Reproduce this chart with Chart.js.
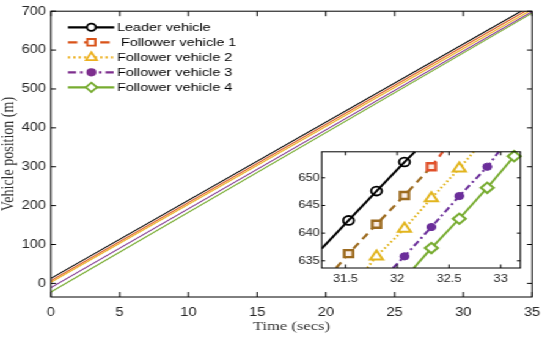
<!DOCTYPE html>
<html>
<head>
<meta charset="utf-8">
<script src="https://cdn.jsdelivr.net/npm/chart.js@4.4.0/dist/chart.umd.min.js"></script>
<style>
html, body { margin: 0; padding: 0; background: #fff; overflow: hidden; }
/* the reference is stretched sideways, so draw narrow and stretch */
#wrap { position: absolute; left: 0; top: 0; width: 450px; height: 337px; transform: scaleX(1.2222); transform-origin: 0 0; }
#c1 { position: absolute; left: 0; top: 0; }
#c2 { position: absolute; left: 233px; top: 144px; }
</style>
</head>
<body>
<div id="wrap">
  <canvas id="c1" width="450" height="337"></canvas>
  <canvas id="c2" width="200" height="144"></canvas>
</div>
<script>
// names
var seriesNames = ['Leader vehicle', ' Follower vehicle 1', 'Follower vehicle 2', 'Follower vehicle 3', 'Follower vehicle 4'];

// main plot (time in s, position in m)
var timeEnds = [0, 35];
var leaderPos = [13, 716];
var follower1Pos = [7, 710];
var follower2Pos = [3, 704];
var follower3Pos = [-11, 699];
var follower4Pos = [-22, 695];
var xTicks = [0, 5, 10, 15, 20, 25, 30, 35];
var yTicks = [0, 100, 200, 300, 400, 500, 600, 700];

// zoomed inset, first/last points are where the lines cross the frame
var leaderZoomT = [31.27, 31.53, 31.80, 32.07, 32.17];
var leaderZoomPos = [637.2, 642.3, 647.6, 652.85, 654.7];
var follower1ZoomT = [31.41, 31.53, 31.80, 32.07, 32.33, 32.44];
var follower1ZoomPos = [633.7, 636.3, 641.6, 646.8, 652.0, 654.7];
var follower2ZoomT = [31.71, 31.80, 32.07, 32.33, 32.60, 32.74];
var follower2ZoomPos = [633.7, 635.8, 640.8, 646.3, 651.7, 654.7];
var follower3ZoomT = [31.96, 32.07, 32.33, 32.60, 32.87, 32.98];
var follower3ZoomPos = [633.7, 635.8, 641.1, 646.7, 652.0, 654.7];
var follower4ZoomT = [32.16, 32.33, 32.60, 32.87, 33.13];
var follower4ZoomPos = [633.7, 637.3, 642.6, 648.2, 653.9];
var insetXTicks = [31.5, 32, 32.5, 33];
var insetYTicks = [635, 640, 645, 650];

var SX = 1.2222;
var colors = ['#000000', '#D95319', '#EDB120', '#7E2F8E', '#77AC30'];
var dashes = [[], [7, 5], [1.6, 2.4], [6, 3, 2, 3], []];
var tickFont = '"Liberation Sans", Arial, sans-serif';
var titleFont = '"Liberation Serif", "Times New Roman", serif';

function xy(t, p) {
    return t.map(function (v, i) { return {x: v, y: p[i]}; });
}

// frame + inward ticks on all four sides
function framePlugin(len) {
    return {
        id: 'frame',
        beforeDraw: function (chart) {
            var a = chart.chartArea, ctx = chart.ctx;
            ctx.save();
            ctx.fillStyle = '#fff';
            ctx.fillRect(a.left, a.top, a.right - a.left, a.bottom - a.top);
            ctx.restore();
        },
        afterDatasetsDraw: function (chart) {
            var a = chart.chartArea, ctx = chart.ctx;
            var x = chart.scales.x, y = chart.scales.y;
            ctx.save();
            ctx.strokeStyle = '#000';
            ctx.lineWidth = 1;
            ctx.setLineDash([]);
            ctx.beginPath();
            x.ticks.forEach(function (t) {
                var px = x.getPixelForValue(t.value);
                ctx.moveTo(px, a.bottom); ctx.lineTo(px, a.bottom - len);
                ctx.moveTo(px, a.top); ctx.lineTo(px, a.top + len);
            });
            y.ticks.forEach(function (t) {
                var py = y.getPixelForValue(t.value);
                ctx.moveTo(a.left, py); ctx.lineTo(a.left + len / SX, py);
                ctx.moveTo(a.right, py); ctx.lineTo(a.right - len / SX, py);
            });
            ctx.stroke();
            ctx.strokeRect(a.left, a.top, a.right - a.left, a.bottom - a.top);
            ctx.restore();
        }
    };
}

function marker(ctx, style, x, y, r, color, fill, lw) {
    ctx.save();
    ctx.setLineDash([]);
    ctx.lineWidth = lw;
    ctx.strokeStyle = color;
    ctx.fillStyle = fill;
    ctx.beginPath();
    if (style === 'circle') ctx.arc(x, y, r, 0, Math.PI * 2);
    else if (style === 'rect') ctx.rect(x - r * 0.72, y - r * 0.72, r * 1.44, r * 1.44);
    else if (style === 'triangle') { ctx.moveTo(x, y - r * 1.1); ctx.lineTo(x + r * 0.95, y + r * 0.6); ctx.lineTo(x - r * 0.95, y + r * 0.6); ctx.closePath(); }
    else { ctx.moveTo(x, y - r); ctx.lineTo(x + r, y); ctx.lineTo(x, y + r); ctx.lineTo(x - r, y); ctx.closePath(); }
    ctx.fill();
    ctx.stroke();
    ctx.restore();
}

var legendStyles = [
    {style: 'circle', r: 3.6, fill: '#fff'},
    {style: 'rect', r: 4.6, fill: '#fff'},
    {style: 'triangle', r: 4.6, fill: '#fff'},
    {style: 'circle', r: 3.2, fill: '#7E2F8E'},
    {style: 'diamond', r: 4.6, fill: '#fff'}
];

var legendPlugin = {
    id: 'legendBox',
    afterDraw: function (chart) {
        var ctx = chart.ctx;
        ctx.save();
        for (var i = 0; i < seriesNames.length; i++) {
            var yy = 27.3 + 15 * i;
            ctx.strokeStyle = colors[i];
            ctx.lineWidth = 2.2;
            ctx.setLineDash(dashes[i].map(function (d) { return d * 1.1; }));
            ctx.beginPath();
            ctx.moveTo(55.6, yy);
            ctx.lineTo(93.5, yy);
            ctx.stroke();
            var s = legendStyles[i];
            marker(ctx, s.style, 74.8, yy, s.r, colors[i], s.fill, 1.8);
            ctx.fillStyle = '#000';
            ctx.font = '11.8px ' + tickFont;
            ctx.textBaseline = 'middle';
            ctx.fillText(seriesNames[i], 95.7, yy + 0.5);
        }
        ctx.restore();
    }
};

var mainSeries = [leaderPos, follower1Pos, follower2Pos, follower3Pos, follower4Pos];

new Chart(document.getElementById('c1'), {
    type: 'scatter',
    data: {
        datasets: mainSeries.map(function (p, i) {
            return {
                label: seriesNames[i],
                data: xy(timeEnds, p),
                showLine: true,
                borderColor: colors[i],
                borderWidth: 1.1,
                pointRadius: 0,
                order: i === 0 ? -1 : i
            };
        })
    },
    options: {
        responsive: false,
        animation: false,
        devicePixelRatio: 1,
        layout: {padding: {left: 0, top: 7, right: 9.8, bottom: 0}},
        plugins: {legend: {display: false}, tooltip: {enabled: false}},
        scales: {
            x: {
                type: 'linear', min: 0, max: 35,
                grid: {display: false, drawTicks: false},
                border: {display: false},
                afterBuildTicks: function (s) { s.ticks = xTicks.map(function (v) { return {value: v}; }); },
                afterFit: function (s) { s.height = 40; },
                ticks: {padding: 8, maxRotation: 0, autoSkip: false, color: '#262626', font: {family: tickFont, size: 12}},
                title: {display: true, text: 'Time (secs)', color: '#333', font: {family: titleFont, size: 13.5}, padding: {top: 0, bottom: 2}}
            },
            y: {
                type: 'linear', min: -35, max: 700,
                grid: {display: false, drawTicks: false},
                border: {display: false},
                afterBuildTicks: function (s) { s.ticks = yTicks.map(function (v) { return {value: v}; }); },
                afterFit: function (s) { s.width = 41.7; },
                ticks: {padding: 4, autoSkip: false, color: '#262626', font: {family: tickFont, size: 12}},
                title: {display: true, text: 'Vehicle position (m)', color: '#333', font: {family: titleFont, size: 14}, padding: {top: -1, bottom: 0}}
            }
        }
    },
    plugins: [framePlugin(5), legendPlugin]
});

// inset
var f1Brown = '#9C6A1E';
var insetSeries = [
    {t: leaderZoomT, p: leaderZoomPos, style: 'circle', r: 4.4, lw: 2, bw: 1.8, color: '#000', fill: 'rgba(255,255,255,0)', openEnd: true},
    {t: follower1ZoomT, p: follower1ZoomPos, style: 'rect', r: 5, lw: 2.2, bw: 2.4, color: f1Brown, fill: '#fbeee6', openEnd: true},
    {t: follower2ZoomT, p: follower2ZoomPos, style: 'triangle', r: 6, lw: 2, bw: 2, color: '#E2B51E', fill: '#fff', openEnd: true},
    {t: follower3ZoomT, p: follower3ZoomPos, style: 'circle', r: 3.6, lw: 2, bw: 1, color: '#6B2E9A', fill: '#6B2E9A', openEnd: true},
    {t: follower4ZoomT, p: follower4ZoomPos, style: 'rectRot', r: 5.2, lw: 2, bw: 2, color: '#77AC30', fill: '#fff', openEnd: false}
];

new Chart(document.getElementById('c2'), {
    type: 'scatter',
    data: {
        datasets: insetSeries.map(function (s, i) {
            var n = s.t.length;
            var hasColor = function (c) {
                return (i === 1 && c.dataIndex >= 4) ? '#E0502A' : s.color;
            };
            return {
                data: xy(s.t, s.p),
                showLine: true,
                borderColor: s.color,
                borderWidth: s.lw,
                borderDash: dashes[i],
                segment: i === 1 ? {borderColor: function (c) { return c.p0DataIndex >= 4 ? '#E0502A' : f1Brown; }} : {},
                pointStyle: s.style,
                pointRadius: function (c) {
                    return (c.dataIndex === 0 || (s.openEnd && c.dataIndex === n - 1)) ? 0 : s.r;
                },
                pointBorderWidth: s.bw,
                pointBorderColor: hasColor,
                pointBackgroundColor: s.fill,
                clip: {left: 0, top: 3, right: 6, bottom: 0}
            };
        })
    },
    options: {
        responsive: false,
        animation: false,
        devicePixelRatio: 1,
        layout: {padding: {left: 0, top: 2, right: 4.3, bottom: 0}},
        plugins: {legend: {display: false}, tooltip: {enabled: false}},
        scales: {
            x: {
                type: 'linear', min: 31.27, max: 33.19,
                grid: {display: false, drawTicks: false},
                border: {display: false},
                afterBuildTicks: function (s) { s.ticks = insetXTicks.map(function (v) { return {value: v}; }); },
                afterFit: function (s) { s.height = 20; },
                ticks: {padding: 5, maxRotation: 0, autoSkip: false, color: '#262626', font: {family: tickFont, size: 10.5},
                    callback: function (v) { return String(v); }}
            },
            y: {
                type: 'linear', min: 633.7, max: 654.7,
                grid: {display: false, drawTicks: false},
                border: {display: false},
                afterBuildTicks: function (s) { s.ticks = insetYTicks.map(function (v) { return {value: v}; }); },
                afterFit: function (s) { s.width = 30.2; },
                ticks: {padding: 1.5, autoSkip: false, color: '#262626', font: {family: tickFont, size: 10.5}}
            }
        }
    },
    plugins: [framePlugin(3.5)]
});
</script>
</body>
</html>
